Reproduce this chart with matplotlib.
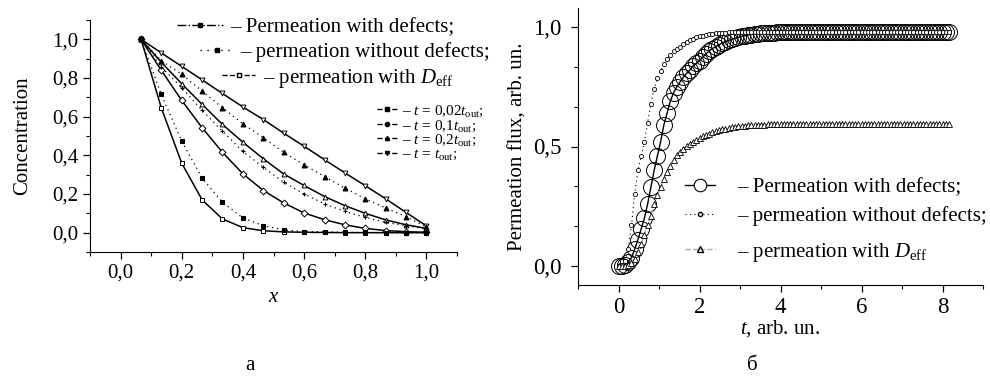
import matplotlib
matplotlib.use("Agg")
import matplotlib.pyplot as plt
from matplotlib.lines import Line2D
from matplotlib.legend import Legend
from matplotlib.ticker import MultipleLocator, AutoMinorLocator, FuncFormatter

plt.rcParams["font.family"] = ["Liberation Serif", "DejaVu Serif"]
plt.rcParams["mathtext.fontset"] = "custom"
plt.rcParams["mathtext.rm"] = "Liberation Serif"
plt.rcParams["mathtext.it"] = "Liberation Serif:italic"

# ---- panel a: concentration profiles ----
x_pos = [0.067, 0.133, 0.2, 0.267, 0.333, 0.4, 0.467, 0.533, 0.6, 0.667, 0.733, 0.8, 0.867, 0.933, 1.0]

# with defects (solid lines, open markers)
c_def_002 = [1.0, 0.646, 0.359, 0.169, 0.071, 0.026, 0.010, 0.004, 0.002, 0.001, 0.0, 0.0, 0.0, 0.0, 0.0]
c_def_01 = [1.0, 0.84, 0.684, 0.542, 0.416, 0.304, 0.218, 0.154, 0.102, 0.067, 0.041, 0.022, 0.011, 0.005, 0.002]
c_def_02 = [1.0, 0.882, 0.77, 0.663, 0.56, 0.468, 0.382, 0.304, 0.244, 0.187, 0.14, 0.10, 0.066, 0.041, 0.022]
c_def_out = [1.0, 0.93, 0.86, 0.79, 0.72, 0.65, 0.585, 0.515, 0.447, 0.377, 0.31, 0.243, 0.175, 0.105, 0.035]

# without defects (dotted lines, filled markers)
c_nodef_002 = [1.0, 0.715, 0.473, 0.281, 0.157, 0.076, 0.036, 0.014, 0.006, 0.004, 0.002, 0.001, 0.0, 0.0, 0.0]
c_nodef_01 = [1.0, 0.857, 0.75, 0.632, 0.525, 0.42, 0.338, 0.261, 0.2, 0.149, 0.11, 0.079, 0.053, 0.036, 0.02]
c_nodef_02 = [1.0, 0.89, 0.819, 0.732, 0.646, 0.563, 0.491, 0.416, 0.351, 0.29, 0.231, 0.175, 0.128, 0.083, 0.03]

# ---- panel б: permeation flux ----
t_vals = [0.0, 0.08, 0.16, 0.24, 0.32, 0.4, 0.48, 0.56, 0.64, 0.72,
          0.8, 0.88, 0.96, 1.04, 1.12, 1.2, 1.28, 1.36, 1.44, 1.52,
          1.6, 1.68, 1.76, 1.84, 1.92, 2.0, 2.08, 2.16, 2.24, 2.32,
          2.4, 2.48, 2.56, 2.64, 2.72, 2.8, 2.88, 2.96, 3.04, 3.12,
          3.2, 3.28, 3.36, 3.44, 3.52, 3.6, 3.68, 3.76, 3.84, 3.92,
          4.0, 4.08, 4.16, 4.24, 4.32, 4.4, 4.48, 4.56, 4.64, 4.72,
          4.8, 4.88, 4.96, 5.04, 5.12, 5.2, 5.28, 5.36, 5.44, 5.52,
          5.6, 5.68, 5.76, 5.84, 5.92, 6.0, 6.08, 6.16, 6.24, 6.32,
          6.4, 6.48, 6.56, 6.64, 6.72, 6.8, 6.88, 6.96, 7.04, 7.12,
          7.2, 7.28, 7.36, 7.44, 7.52, 7.6, 7.68, 7.76, 7.84, 7.92,
          8.0, 8.08, 8.16]

flux_def = [0.0, 0.0, 0.005, 0.015, 0.035, 0.07, 0.11, 0.155, 0.2, 0.26,
            0.33, 0.4, 0.46, 0.52, 0.59, 0.64, 0.69, 0.725, 0.75, 0.77,
            0.79, 0.806, 0.82, 0.836, 0.848, 0.86, 0.874, 0.888, 0.9, 0.91,
            0.918, 0.926, 0.933, 0.939, 0.944, 0.949, 0.953, 0.957, 0.961, 0.964,
            0.967, 0.969, 0.971, 0.972, 0.974, 0.975, 0.976, 0.977, 0.977, 0.978,
            0.978, 0.979, 0.979, 0.979, 0.98, 0.98, 0.98, 0.98, 0.98, 0.98,
            0.98, 0.98, 0.98, 0.98, 0.98, 0.98, 0.98, 0.98, 0.98, 0.98,
            0.98, 0.98, 0.98, 0.98, 0.98, 0.98, 0.98, 0.98, 0.98, 0.98,
            0.98, 0.98, 0.98, 0.98, 0.98, 0.98, 0.98, 0.98, 0.98, 0.98,
            0.98, 0.98, 0.98, 0.98, 0.98, 0.98, 0.98, 0.98, 0.98, 0.98,
            0.98, 0.98, 0.98]

flux_nodef = [0.0, 0.003, 0.02, 0.07, 0.17, 0.3, 0.4, 0.46, 0.52, 0.6,
              0.68, 0.74, 0.785, 0.815, 0.845, 0.865, 0.885, 0.9, 0.91, 0.918,
              0.928, 0.937, 0.945, 0.952, 0.957, 0.961, 0.964, 0.967, 0.97, 0.972,
              0.974, 0.975, 0.976, 0.977, 0.978, 0.979, 0.979, 0.98, 0.98, 0.98,
              0.98, 0.98, 0.98, 0.98, 0.98, 0.98, 0.98, 0.98, 0.98, 0.98,
              0.98, 0.98, 0.98, 0.98, 0.98, 0.98, 0.98, 0.98, 0.98, 0.98,
              0.98, 0.98, 0.98, 0.98, 0.98, 0.98, 0.98, 0.98, 0.98, 0.98,
              0.98, 0.98, 0.98, 0.98, 0.98, 0.98, 0.98, 0.98, 0.98, 0.98,
              0.98, 0.98, 0.98, 0.98, 0.98, 0.98, 0.98, 0.98, 0.98, 0.98,
              0.98, 0.98, 0.98, 0.98, 0.98, 0.98, 0.98, 0.98, 0.98, 0.98,
              0.98, 0.98, 0.98]

flux_deff = [0.0, 0.0, 0.001, 0.005, 0.014, 0.03, 0.06, 0.09, 0.13, 0.17,
             0.21, 0.26, 0.295, 0.33, 0.365, 0.395, 0.42, 0.445, 0.463, 0.478,
             0.491, 0.502, 0.512, 0.52, 0.528, 0.535, 0.542, 0.548, 0.554, 0.559,
             0.564, 0.568, 0.572, 0.575, 0.578, 0.58, 0.582, 0.584, 0.586, 0.587,
             0.588, 0.589, 0.59, 0.591, 0.592, 0.592, 0.593, 0.593, 0.594, 0.594,
             0.594, 0.595, 0.595, 0.595, 0.595, 0.595, 0.595, 0.595, 0.595, 0.595,
             0.595, 0.595, 0.595, 0.595, 0.595, 0.595, 0.595, 0.595, 0.595, 0.595,
             0.595, 0.595, 0.595, 0.595, 0.595, 0.595, 0.595, 0.595, 0.595, 0.595,
             0.595, 0.595, 0.595, 0.595, 0.595, 0.595, 0.595, 0.595, 0.595, 0.595,
             0.595, 0.595, 0.595, 0.595, 0.595, 0.595, 0.595, 0.595, 0.595, 0.595,
             0.595, 0.595, 0.595]

W, H = 990, 382


def comma(v, pos):
    return f"{v:.1f}".replace(".", ",")


def row_legend(ax, handle, label, px, py, size, hl, pad=0.35):
    # one legend row anchored at a pixel position (left edge, centre)
    leg = Legend(ax, [handle], [label], loc="center left",
                 bbox_to_anchor=(px / W, 1 - py / H), bbox_transform=ax.figure.transFigure,
                 frameon=False, fontsize=size, handlelength=hl, handletextpad=pad,
                 borderpad=0, borderaxespad=0)
    ax.add_artist(leg)


def style_axes(ax):
    ax.spines["top"].set_visible(False)
    ax.spines["right"].set_visible(False)
    ax.tick_params(direction="out", which="major", length=5, width=0.9)
    ax.tick_params(direction="out", which="minor", length=3, width=0.8)


fig = plt.figure(figsize=(W / 100, H / 100), dpi=100)
axa = fig.add_axes([90 / W, 1 - 252 / H, 367 / W, 232 / H])
axb = fig.add_axes([578 / W, 1 - 285 / H, 405 / W, 277 / H])

# panel a
solid = [(c_def_002, "s"), (c_def_01, "D"), (c_def_02, "^"), (c_def_out, "v")]
for vals, mk in solid:
    axa.plot(x_pos, vals, color="black", lw=1.1, marker=mk, ms=3.5, mfc="white", mew=0.7)
dotted = [(c_nodef_002, "s"), (c_nodef_01, "+"), (c_nodef_02, "^")]
for vals, mk in dotted:
    axa.plot(x_pos, vals, color="black", lw=0.9, ls=(0, (1, 3)), marker=mk, ms=3.5, mew=0.8)

axa.set_xlim(-0.1, 1.1)
axa.set_ylim(-0.1, 1.1)
axa.xaxis.set_major_locator(MultipleLocator(0.2))
axa.xaxis.set_minor_locator(MultipleLocator(0.1))
axa.yaxis.set_major_locator(MultipleLocator(0.2))
axa.yaxis.set_minor_locator(MultipleLocator(0.1))
axa.xaxis.set_major_formatter(FuncFormatter(comma))
axa.yaxis.set_major_formatter(FuncFormatter(comma))
axa.tick_params(labelsize=15)
style_axes(axa)
axa.set_xlabel("$x$", fontsize=15, labelpad=4)
axa.set_ylabel("Concentration", fontsize=15, labelpad=14)

h1 = Line2D([], [], color="black", lw=1.0, ls="-.", marker="s", ms=3)
h2 = Line2D([], [], color="black", lw=1.0, ls=(0, (1, 4)), marker="s", ms=3)
h3 = Line2D([], [], color="black", lw=1.0, ls="--", marker="s", ms=3, mfc="white")
row_legend(axa, h1, "– Permeation with defects;", 177, 27, 15, 2.2)
row_legend(axa, h2, "– permeation without defects;", 200, 52, 15, 1.6)
row_legend(axa, h3, "– permeation with $D_{\\mathrm{eff}}$", 222, 78, 15, 1.6)

t_marks = ["s", "o", "^", "v"]
t_labels = ["– $t$ = 0,02$t_{\\mathrm{out}}$;", "– $t$ = 0,1$t_{\\mathrm{out}}$;",
            "– $t$ = 0,2$t_{\\mathrm{out}}$;", "– $t$ = $t_{\\mathrm{out}}$;"]
t_rows = [111, 126, 140, 155]
for mk, lab, py in zip(t_marks, t_labels, t_rows):
    hh = Line2D([], [], color="black", lw=1.0, ls="--", marker=mk, ms=3)
    row_legend(axa, hh, lab, 377, py, 11, 1.3)

# panel б
axb.plot(t_vals, flux_nodef, color="black", lw=0.8, ls=(0, (1, 3)), marker="o", ms=3,
         mfc="white", mew=0.6, zorder=3)
axb.plot(t_vals, flux_def, color="black", lw=1.0, marker="o", ms=11.5, mfc="none", mew=0.7, zorder=2)
axb.plot(t_vals, flux_deff, color="#aaaaaa", lw=1.0, ls="--", marker="^", ms=4, mfc="white",
         mec="black", mew=0.6, zorder=4)

axb.set_xlim(-1, 9)
axb.set_ylim(-0.08, 1.08)
axb.xaxis.set_major_locator(MultipleLocator(2))
axb.xaxis.set_minor_locator(MultipleLocator(1))
axb.yaxis.set_major_locator(MultipleLocator(0.5))
axb.yaxis.set_minor_locator(AutoMinorLocator(3))
axb.yaxis.set_major_formatter(FuncFormatter(comma))
axb.tick_params(labelsize=16.5)
axb.tick_params(axis="y", pad=7)
style_axes(axb)
axb.set_xlabel("$t$, arb. un.", fontsize=15, labelpad=0)
axb.set_ylabel("Permeation flux, arb. un.", fontsize=15, labelpad=4)

g1 = Line2D([], [], color="black", lw=1.0, marker="o", ms=9, mfc="white", mew=0.8)
g2 = Line2D([], [], color="black", lw=0.8, ls=(0, (1, 3)), marker="o", ms=3, mfc="white")
g3 = Line2D([], [], color="#aaaaaa", lw=1.0, ls="--", marker="^", ms=4, mfc="white", mec="black")
row_legend(axb, g1, "– Permeation with defects;", 685, 187, 15, 1.45, 1.05)
row_legend(axb, g2, "– permeation without defects;", 685, 216, 15, 1.45, 1.05)
row_legend(axb, g3, "– permeation with $D_{\\mathrm{eff}}$", 685, 252, 15, 1.45, 1.05)

fig.text(250 / W, 1 - 366 / H, "а", fontsize=15, ha="center", va="center")
fig.text(752 / W, 1 - 366 / H, "б", fontsize=15, ha="center", va="center")

fig.savefig("out.png", dpi=100)
